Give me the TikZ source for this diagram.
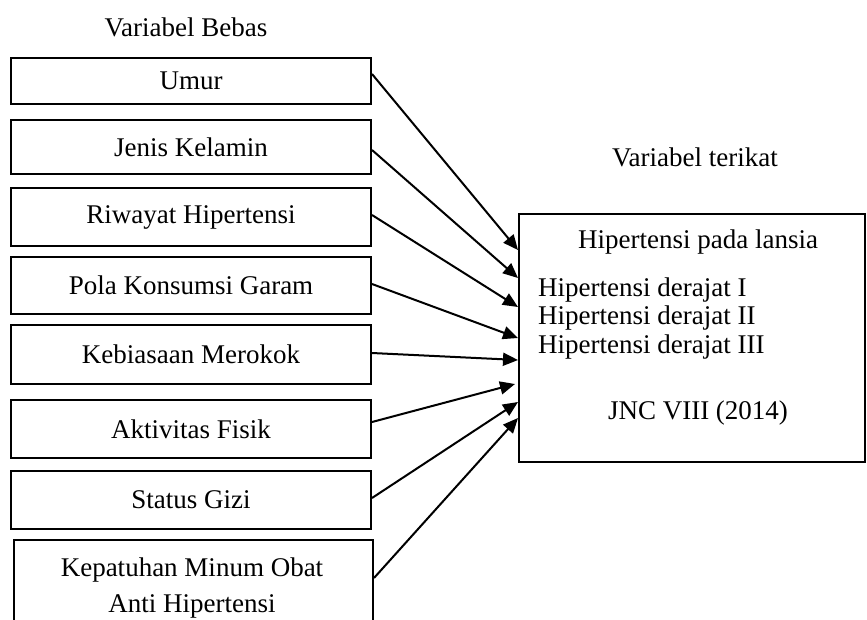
\documentclass[tikz,border=0pt]{standalone}
\usepackage{fontspec}
\setmainfont{Liberation Serif}
\usetikzlibrary{arrows.meta}
\begin{document}
\begin{tikzpicture}[x=1pt,y=-1pt,
  every node/.style={font=\fontsize{27}{28.5}\selectfont, inner sep=0pt},
  varbox/.style={draw=black, line width=2pt, minimum width=360pt, anchor=north west},
  conn/.style={line width=2pt, -{Triangle[length=15pt,width=13pt]}}]
\useasboundingbox (0,0) rectangle (867,619);
\clip (0,0) rectangle (867,619);
\fill[white] (0,0) rectangle (867,619);
\node (hdrA) at (186,27) {Variabel Bebas};
\node (hdrB) at (695,157) {Variabel terikat};
\node[varbox, minimum height=46pt] (umur) at (10,57) {Umur};
\node[varbox, minimum height=54pt] (jenis) at (10,119) {Jenis Kelamin};
\node[varbox, minimum height=58pt] (riwayat) at (10,187) {Riwayat Hipertensi};
\node[varbox, minimum height=57pt] (pola) at (10,256) {Pola Konsumsi Garam};
\node[varbox, minimum height=59pt] (kebiasaan) at (10,324) {Kebiasaan Merokok};
\node[varbox, minimum height=58pt] (aktivitas) at (10,399) {Aktivitas Fisik};
\node[varbox, minimum height=58pt] (status) at (10,470) {Status Gizi};
\node[draw=black, line width=2pt, minimum width=359pt, minimum height=86pt, anchor=north west] (kepatuhan) at (13,539) {};
\node[align=center, font=\fontsize{27}{36}\selectfont] (keptext) at (192,588) {Kepatuhan Minum Obat\\Anti Hipertensi};
\node[draw=black, line width=2pt, minimum width=346pt, minimum height=248pt] (hyp) at (692,338) {};
\node (hyptitle) at (698,242) {Hipertensi pada lansia};
\node[align=left, anchor=west] (deraj) at (538,318) {Hipertensi derajat I\\Hipertensi derajat II\\Hipertensi derajat III};
\node (jnc) at (698,413) {JNC VIII (2014)};
\draw[conn] ([yshift=7pt]umur.east) -- ([yshift=88pt]hyp.west);
\draw[conn] ([yshift=-3pt]jenis.east) -- ([yshift=60pt]hyp.west);
\draw[conn] ([yshift=2pt]riwayat.east) -- ([yshift=31pt]hyp.west);
\draw[conn] ([yshift=1.5pt]pola.east) -- ([yshift=0pt]hyp.west);
\draw[conn] ([yshift=1.5pt]kebiasaan.east) -- ([yshift=-22pt]hyp.west);
\draw[conn] ([yshift=7pt]aktivitas.east) -- ([yshift=-46pt,xshift=-3pt]hyp.west);
\draw[conn] ([yshift=2pt]status.east) -- ([yshift=-64pt]hyp.west);
\draw[conn] ([yshift=5pt]kepatuhan.east) -- ([yshift=-80pt]hyp.west);
\end{tikzpicture}
\end{document}
